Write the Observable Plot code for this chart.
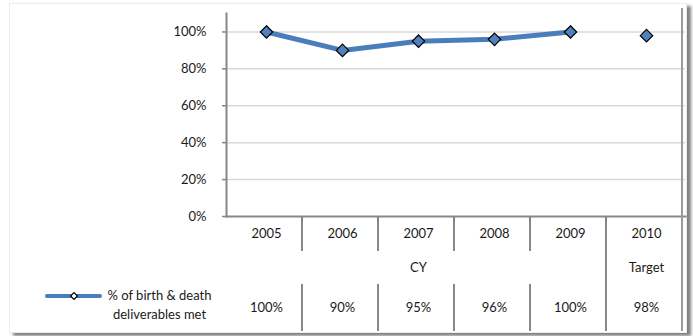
<!DOCTYPE html>
<html><head><meta charset="utf-8">
<script src="https://cdn.jsdelivr.net/npm/d3@7"></script>
<script src="https://cdn.jsdelivr.net/npm/@observablehq/plot@0.6"></script>
<style>
html,body{margin:0;padding:0;background:#fff;}
#wrap{position:relative;width:693px;height:336px;overflow:hidden;}
#border{position:absolute;left:9px;top:3px;width:676px;height:328px;border:1px solid #ececec;background:#fff;box-shadow:4px 3px 3px rgba(0,0,0,0.5);}
#chart{position:absolute;left:0;top:0;}
</style></head><body>
<div id="wrap"><div id="border"></div><div id="chart"></div></div>
<script>
// ---- data ----
const years = ["2005", "2006", "2007", "2008", "2009", "2010"];
const values = [1.00, 0.90, 0.95, 0.96, 1.00, 0.98];
const groups = ["CY", "CY", "CY", "CY", "CY", "Target"];
const seriesName = "% of birth & death\ndeliverables met";
const yTicks = [0, 0.2, 0.4, 0.6, 0.8, 1.0];

const rows = years.map((year, i) => ({year, value: values[i], group: groups[i]}));
const cyRows = rows.filter(d => d.group === "CY");
const groupNames = [...new Set(groups)];
const groupLabels = groupNames.map(g => {
  const idx = groups.map((d, i) => d === g ? i : -1).filter(i => i >= 0);
  return {group: g, year: years[Math.floor((idx[0] + idx[idx.length - 1]) / 2)]};
});
const fmt = d3.format(".0%");

const blue = "#4A7EBB";
const gray = "#878787";
const font = "Lato, sans-serif";

const plot = Plot.plot({
  width: 693,
  height: 336,
  marginLeft: 226,
  marginRight: 8,
  marginTop: 13,
  marginBottom: 120,
  style: {fontFamily: font, fontSize: "13px", background: "transparent", color: "#1a1a1a"},
  x: {type: "band", domain: years, padding: 0, axis: null},
  y: {domain: [0, 1.1], axis: null},
  marks: [
    Plot.ruleY(yTicks.filter(d => d > 0), {stroke: "#d9d9d9", strokeWidth: 1.5}),
    Plot.axisY({ticks: yTicks, tickFormat: fmt, tickSize: 4, tickPadding: 16, stroke: gray, strokeWidth: 1.5, fill: "#1a1a1a", fontSize: 13, label: null}),
    Plot.frame({anchor: "left", stroke: gray, strokeWidth: 2}),
    Plot.frame({anchor: "bottom", stroke: gray, strokeWidth: 2}),
    Plot.line(cyRows, {x: "year", y: "value", stroke: blue, strokeWidth: 5}),
    Plot.dot(rows, {x: "year", y: "value", symbol: "diamond2", r: 5.6, fill: "#4F81BD", stroke: "#000", strokeWidth: 1.2}),
    Plot.text(years, {x: d => d, frameAnchor: "bottom", dy: 21, fill: "#1a1a1a"}),
    Plot.text(groupLabels, {x: "year", text: "group", frameAnchor: "bottom", dy: 55, fill: "#1a1a1a"}),
    Plot.text(rows, {x: "year", text: d => fmt(d.value), frameAnchor: "bottom", dy: 95, fill: "#1a1a1a"}),
    Plot.text([seriesName], {frameAnchor: "bottom-left", dx: -67, dy: 102, textAnchor: "middle", lineHeight: 1.45, fill: "#1a1a1a"})
  ]
});
document.getElementById("chart").appendChild(plot);

// table dividers drawn through Plot's own x scale
const xs = plot.scale("x");
const off = xs.apply(years[0]) - xs.range[0];
const left = y => xs.apply(y) - off;
const right = y => left(y) + xs.bandwidth;
const svg = d3.select(plot);
const y0 = 216, row1End = 251, row3Start = 284, tableEnd = 331;
const g = svg.append("g").attr("stroke", gray).attr("stroke-width", 2);
years.forEach((yr, i) => {
  if (i === 0) return;
  const x = left(yr);
  const groupBreak = groups[i] !== groups[i - 1];
  if (groupBreak) {
    g.append("line").attr("x1", x).attr("x2", x).attr("y1", y0).attr("y2", tableEnd);
  } else {
    g.append("line").attr("x1", x).attr("x2", x).attr("y1", y0).attr("y2", row1End);
    g.append("line").attr("x1", x).attr("x2", x).attr("y1", row3Start).attr("y2", tableEnd);
  }
});
const xr = right(years[years.length - 1]);
g.append("line").attr("x1", xr).attr("x2", xr).attr("y1", 8).attr("y2", tableEnd).attr("stroke", "#9a9a9a");

// legend key
const lg = svg.append("g");
lg.append("line").attr("x1", 47).attr("x2", 100).attr("y1", 296).attr("y2", 296)
  .attr("stroke", blue).attr("stroke-width", 4).attr("stroke-linecap", "round");
lg.append("path").attr("d", d3.symbol(d3.symbolDiamond2, 30)()).attr("transform", "translate(74,296)")
  .attr("fill", "#fff").attr("stroke", "#000").attr("stroke-width", 1.2);
</script>
</body></html>
